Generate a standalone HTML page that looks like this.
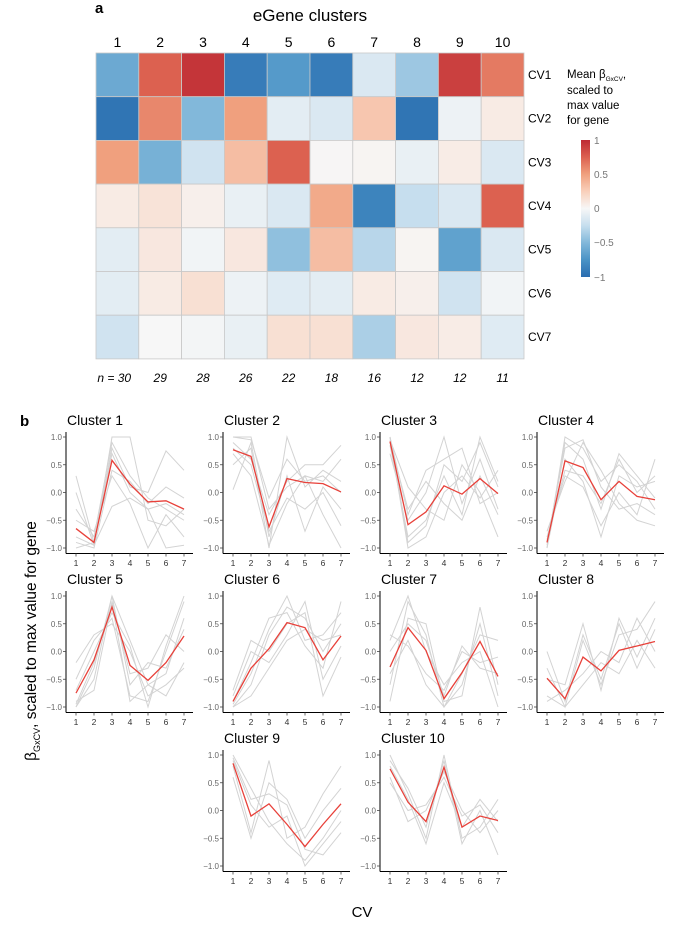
<!DOCTYPE html>
<html><head><meta charset="utf-8"><style>
body{margin:0;background:#fff;}
svg{display:block;font-family:"Liberation Sans",Arial,sans-serif;}
</style></head><body>
<svg id="fig" width="678" height="925" viewBox="0 0 678 925" xmlns="http://www.w3.org/2000/svg">
<text x="95" y="13" font-size="15" font-weight="bold">a</text>
<text x="310" y="21" font-size="17" text-anchor="middle">eGene clusters</text>
<g id="hm"></g>
<g>
<text x="567" y="78" font-size="11.5">Mean β<tspan font-size="6.5" dy="3">GxCV</tspan><tspan dy="-3">,</tspan></text>
<text x="567" y="94" font-size="11.5">scaled to</text>
<text x="567" y="109" font-size="11.5">max value</text>
<text x="567" y="124" font-size="11.5">for gene</text>
<defs><linearGradient id="cb" x1="0" y1="1" x2="0" y2="0">
<stop offset="0" stop-color="#2a6db0"/><stop offset="0.125" stop-color="#4a93c6"/><stop offset="0.25" stop-color="#82b8da"/><stop offset="0.375" stop-color="#c6deee"/><stop offset="0.5" stop-color="#f7f7f7"/><stop offset="0.625" stop-color="#f9d0bb"/><stop offset="0.75" stop-color="#f0a07e"/><stop offset="0.875" stop-color="#dc6150"/><stop offset="1" stop-color="#be2a33"/></linearGradient></defs>
<rect x="581" y="140" width="9" height="137" fill="url(#cb)"/>
<g font-size="10" fill="#777">
<text x="594" y="144">1</text><text x="594" y="178">0.5</text><text x="594" y="212">0</text><text x="594" y="246">−0.5</text><text x="594" y="281">−1</text></g>
</g>
<text x="20" y="426" font-size="15" font-weight="bold">b</text>
<text transform="translate(36,641) rotate(-90)" font-size="15.5" text-anchor="middle">β<tspan font-size="9" dy="4">GxCV</tspan><tspan dy="-4">, scaled to max value for gene</tspan></text>
<text x="362" y="917" font-size="15" text-anchor="middle">CV</text>
<g id="panels"></g>
</svg>
<script>
const clusterLabels=["1","2","3","4","5","6","7","8","9","10"];
const cvLabels=["CV1","CV2","CV3","CV4","CV5","CV6","CV7"];
const nLabels=["n = 30","29","28","26","22","18","16","12","12","11"];
const heatValues=[
[-0.6,0.75,0.95,-0.9,-0.7,-0.9,-0.15,-0.4,0.9,0.65],
[-0.95,0.6,-0.5,0.5,-0.1,-0.15,0.3,-0.95,-0.05,0.08],
[0.5,-0.55,-0.2,0.35,0.75,0.01,0.02,-0.07,0.07,-0.15],
[0.08,0.13,0.05,-0.07,-0.15,0.45,-0.85,-0.25,-0.15,0.75],
[-0.1,0.1,-0.03,0.1,-0.45,0.35,-0.3,0.02,-0.65,-0.15],
[-0.1,0.08,0.15,-0.05,-0.12,-0.1,0.08,0.05,-0.2,-0.03],
[-0.2,0.0,-0.02,-0.07,0.15,0.15,-0.35,0.1,0.07,-0.12]];
const meanLines=[
[-0.65,-0.9,0.58,0.15,-0.17,-0.15,-0.3],
[0.77,0.65,-0.62,0.25,0.18,0.16,0.01],
[0.92,-0.58,-0.35,0.12,-0.03,0.25,-0.02],
[-0.9,0.57,0.45,-0.13,0.2,-0.07,-0.13],
[-0.75,-0.15,0.8,-0.25,-0.52,-0.2,0.28],
[-0.9,-0.3,0.05,0.52,0.43,-0.15,0.28],
[-0.28,0.43,0.02,-0.85,-0.38,0.18,-0.45],
[-0.48,-0.85,-0.1,-0.35,0.02,0.1,0.18],
[0.85,-0.1,0.12,-0.25,-0.65,-0.25,0.12],
[0.75,0.15,-0.2,0.78,-0.3,-0.1,-0.18]];
const geneLines=[
[[-0.3,-0.8,0.9,0.3,-0.1,-0.3,-0.5],[-0.9,-1,0.4,0.2,-0.2,0.1,-0.1],[0.3,-0.9,0.7,0,-0.3,-0.2,-0.4],[-0.8,-0.95,1,1,-0.5,-0.6,-0.3],[-0.5,-0.7,0.3,-0.2,-1,-0.4,-0.8],[-1,-0.9,0.8,0.1,0,0.75,0.4],[0,-0.95,-0.25,-0.1,-0.3,-1,-0.95]],
[[1,1,-0.3,0.1,0.3,0.2,0.6],[0.5,0.8,-1,1,0.1,0.4,0.2],[0.05,0.9,-0.8,0.3,-0.7,0.1,-0.3],[0.9,0.6,-0.4,0.2,0.5,0.5,0.85],[0.7,0.3,-0.95,-0.2,0.3,-0.4,-1],[1,0.95,-0.1,0.6,0.2,0.3,0],[0.8,0.5,-0.7,-0.1,-0.3,0,-0.6]],
[[1,-0.9,-0.6,0.5,0.2,0.9,0.1],[0.9,-0.3,0.2,-0.2,-0.5,0.3,-0.4],[1,-1,-0.8,0,0.3,-0.1,0.4],[0.7,-0.5,0,1,-0.2,0.6,-0.3],[0.95,0.1,-0.3,-0.5,0.5,0,-0.8],[0.85,-0.8,-0.5,0.3,-0.4,1,0.2],[1,-0.4,0.4,0.6,0.8,-0.2,0]],
[[-1,1,0.8,0.2,0.5,0.2,-0.3],[-0.8,0.3,0.1,-0.6,0,-0.4,0.6],[-0.95,0.9,0.6,-0.3,0.7,0.3,-0.1],[-0.7,0.2,0.9,0.4,-0.2,-0.5,-0.6],[-1,0.6,0.2,-0.8,0.3,0.1,0.2],[-0.9,0.8,0.95,0.1,-0.3,-0.2,-0.4],[-0.85,0.4,0.3,-0.2,0.6,0,0.3]],
[[-1,-0.3,1,0.2,-0.6,-0.4,0.6],[-0.5,0.2,0.6,-0.8,-0.9,0,0.9],[-0.9,-0.7,0.9,-0.4,-0.3,0.3,0],[-0.2,0.3,0.5,0,-0.8,-0.6,-0.3],[-1,-0.5,1,-0.6,-0.2,-0.3,0.4],[-0.7,0,0.7,0.1,-1,0.1,1],[-0.95,-0.2,0.85,-0.9,-0.6,-0.8,-0.2]],
[[-1,-0.6,0.3,0.8,0.6,0,0.5],[-0.8,0,-0.2,0.3,0.9,-0.5,0.1],[-0.95,-0.4,0.4,1,0.2,0.3,0.7],[-0.7,0.2,0,0.5,0.7,-0.8,-0.1],[-1,-0.8,-0.3,0.2,0.4,0.2,0.3],[-0.9,-0.2,0.6,0.7,0.1,-0.3,0.9]],
[[-0.6,0.9,0.3,-1,-0.6,0.5,-0.8],[0.3,0.1,-0.4,-0.7,0,-0.2,-0.1],[-0.9,0.6,0.5,-0.9,-0.8,0.8,-0.6],[0.2,1,0,-0.6,-0.2,0,-1],[-0.4,0.2,-0.6,-1,-0.4,0.3,0.2],[0,0.5,0.2,-0.8,0.1,-0.3,-0.4]],
[[-0.3,-1,0.2,-0.6,0.3,0.4,0.9],[-0.9,-0.7,-0.4,0,-0.2,0.6,0],[0,-0.9,0.3,-0.5,0.5,-0.3,0.4],[-0.8,-1,-0.6,-0.2,-0.4,0.2,-0.3],[-0.5,-0.6,0.5,-0.7,0.6,-0.1,0.6]],
[[1,0.4,-0.2,-0.6,-0.9,-0.5,0],[0.6,-0.5,0.5,0.2,-0.5,0,0.4],[0.9,0.1,-0.3,-0.1,-1,-0.6,-0.2],[0.8,-0.4,0.9,-0.5,-0.3,0.3,0.8],[0.95,0.2,0.3,0.1,-0.7,-0.8,-0.4]],
[[1,0.3,-0.5,1,-0.5,-0.3,0.2],[0.5,0,0.1,0.6,-0.1,0.1,-0.4],[0.9,0.4,-0.3,0.9,-0.6,0,-0.8],[0.6,-0.2,0,0.7,0,-0.4,0],[0.8,0.2,-0.6,0.5,-0.3,0.2,-0.2]]];
const yTickVals=[1,0.5,0,-0.5,-1];
const yTickLabels=["1.0","0.5","0.0","−0.5","−1.0"];
const xTickLabels=["1","2","3","4","5","6","7"];

const NS="http://www.w3.org/2000/svg";
function mk(tag,attrs,parent){const e=document.createElementNS(NS,tag);for(const k in attrs)e.setAttribute(k,attrs[k]);parent.appendChild(e);return e;}
const stops=[[-1,[42,109,176]],[-0.75,[74,147,198]],[-0.5,[130,184,218]],[-0.25,[198,222,238]],[0,[247,247,247]],[0.25,[249,208,187]],[0.5,[240,160,126]],[0.75,[220,97,80]],[1,[190,42,51]]];
function col(v){v=Math.max(-1,Math.min(1,v));for(let i=0;i<stops.length-1;i++){const a=stops[i],b=stops[i+1];if(v<=b[0]){const t=(v-a[0])/(b[0]-a[0]);const c=a[1].map((x,j)=>Math.round(x+(b[1][j]-x)*t));return `rgb(${c})`;}}return 'rgb(190,42,51)';}

// heatmap
const hm=document.getElementById('hm');
const hx0=96,hy0=53,cw=42.8,ch=43.7;
const hx=i=>hx0+i*cw, hy=j=>hy0+j*ch;
clusterLabels.forEach((l,i)=>{const t=mk('text',{x:hx(i)+cw/2,y:47,'font-size':14,'text-anchor':'middle'},hm);t.textContent=l;

});
cvLabels.forEach((l,j)=>{const t=mk('text',{x:hx0+10*cw+4,y:hy(j)+ch/2+4,'font-size':12},hm);t.textContent=l;

});
heatValues.forEach((row,j)=>row.forEach((v,i)=>{const r=mk('rect',{x:hx(i),y:hy(j),width:cw,height:ch,fill:col(v),stroke:'#c8c8c8','stroke-width':0.8},hm);

}));
nLabels.forEach((l,i)=>{const t=mk('text',{x:i==0?hx(i)+cw/2-20:hx(i)+cw/2,y:382,'font-size':12,'font-style':'italic','text-anchor':i==0?'start':'middle'},hm);t.textContent=l;

});

// panels
const P=document.getElementById('panels');
const pos=[[0,0],[1,0],[2,0],[3,0],[0,1],[1,1],[2,1],[3,1],[1,2],[2,2]];
pos.forEach((p,k)=>{
  const ox=66+p[0]*157, oy=159*p[1];
  const g=mk('g',{},P);
  
  
  const sx=i=>ox+10+i*18, sy=v=>oy+492.5-v*55.5;
  const t=mk('text',{x:ox+1,y:oy+425,'font-size':14},g);t.textContent='Cluster '+(k+1);
  
  
  geneLines[k].forEach(s=>{const pl=mk('polyline',{points:s.map((v,i)=>sx(i)+','+sy(v)).join(' '),fill:'none',stroke:'#d3d3d3','stroke-width':1},g);
    
    });
  const m=mk('polyline',{points:meanLines[k].map((v,i)=>sx(i)+','+sy(v)).join(' '),fill:'none',stroke:'#e8413a','stroke-width':1.3},g);
  
  
  mk('line',{x1:ox,y1:oy+432,x2:ox,y2:oy+553.5,stroke:'#000','stroke-width':1},g);
  mk('line',{x1:ox,y1:oy+553.5,x2:ox+127,y2:oy+553.5,stroke:'#000','stroke-width':1},g);
  yTickVals.forEach((v,i)=>{mk('line',{x1:ox-3,y1:sy(v),x2:ox,y2:sy(v),stroke:'#444','stroke-width':0.8},g);
    const tt=mk('text',{x:ox-4,y:sy(v)+3,'font-size':8,fill:'#666','text-anchor':'end'},g);tt.textContent=yTickLabels[i];
    
    });
  xTickLabels.forEach((l,i)=>{mk('line',{x1:sx(i),y1:oy+553.5,x2:sx(i),y2:oy+556.5,stroke:'#444','stroke-width':0.8},g);
    const tt=mk('text',{x:sx(i),y:oy+566,'font-size':8.5,fill:'#333','text-anchor':'middle'},g);tt.textContent=l;
    
    });
});
</script>
</body></html>
